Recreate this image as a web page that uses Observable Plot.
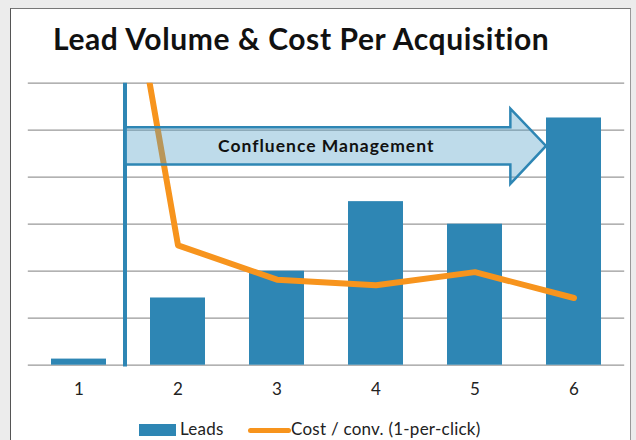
<!DOCTYPE html>
<html><head><meta charset="utf-8">
<script src="https://cdn.jsdelivr.net/npm/d3@7"></script>
<script src="https://cdn.jsdelivr.net/npm/@observablehq/plot@0.6"></script>
<style>
html,body{margin:0;padding:0;width:636px;height:440px;overflow:hidden;background:#ececec;font-family:Lato,sans-serif}
#frame{position:absolute;left:10px;top:8px;width:619px;height:470px;background:#fff;border-left:1.5px solid #555;border-top:1.5px solid #777;border-right:1px solid #999}
#chart{position:absolute;left:0;top:0}
#title{position:absolute;left:53px;top:19.5px;font-size:30px;line-height:36px;letter-spacing:0.6px;font-weight:700;color:#111;white-space:nowrap}
#legend{position:absolute;left:0;top:0;width:636px;height:440px;pointer-events:none}
.sw{position:absolute}
.lt{position:absolute;font-size:17px;line-height:20px;letter-spacing:0.25px;color:#222;white-space:nowrap}
</style>
</head><body>
<div id="frame"></div>
<div id="chart"></div>
<div id="title">Lead Volume &amp; Cost Per Acquisition</div>
<div id="legend">
  <div class="sw" style="left:139px;top:424px;width:37px;height:12px;background:#2e86b4"></div>
  <div class="lt" id="l1" style="left:180px;top:419px">Leads</div>
  <div class="sw" style="left:248px;top:427.5px;width:43px;height:5px;border-radius:3px;background:#f7941d"></div>
  <div class="lt" id="l2" style="left:291px;top:419px">Cost / conv. (1-per-click)</div>
</div>
<script>
const categories = ["1", "2", "3", "4", "5", "6"];
const leads = [1.3, 14.3, 20, 34.8, 30, 52.6];
const costPerConv = [146, 25.5, 18.2, 17.0, 19.8, 14.3];
const gridTicks = [0, 10, 20, 30, 40, 50, 60];
const phaseStart = "1";
const phaseEnd = "6";
const phaseLabel = "Confluence Management";
const arrowBody = [42.6, 50.5];
const arrowHead = [38.5, 54.5];

const table = categories.map((c, i) => ({cat: c, leads: leads[i], cost: costPerConv[i]}));

function arrowMark(index, scales) {
  const x = scales.x, y = scales.y;
  const bw = x.bandwidth ? x.bandwidth() : 0;
  const step = x.step ? x.step() : bw;
  const x0 = x(phaseStart) + bw / 2 + 46;
  const tip = x(phaseEnd);
  const hb = tip - step * 0.36;
  const yMid = y((arrowBody[0] + arrowBody[1]) / 2);
  const pts = [
    [x0, y(arrowBody[1])], [hb, y(arrowBody[1])], [hb, y(arrowHead[1])],
    [tip, yMid], [hb, y(arrowHead[0])], [hb, y(arrowBody[0])], [x0, y(arrowBody[0])]
  ];
  const g = d3.create("svg:g");
  g.append("path")
    .attr("d", "M" + pts.map(p => p.join(",")).join("L") + "Z")
    .attr("fill", "rgba(74,156,197,0.36)")
    .attr("stroke", "#2e86b4")
    .attr("stroke-width", 2.5)
    .attr("stroke-linejoin", "miter");
  g.append("text")
    .attr("x", (x0 + tip) / 2 - 9)
    .attr("y", yMid)
    .attr("dy", "0.35em")
    .attr("text-anchor", "middle")
    .attr("font-size", 17.5)
    .attr("letter-spacing", "1px")
    .attr("font-weight", 700)
    .attr("fill", "#111")
    .text(phaseLabel);
  return g.node();
}

const chart = Plot.plot({
  width: 636,
  height: 410,
  marginLeft: 27.8,
  marginRight: 11.8,
  marginTop: 82.7,
  marginBottom: 45.3,
  x: {type: "band", domain: categories, paddingInner: 0.44, paddingOuter: 0.22, tickSize: 0, tickPadding: 18, label: null},
  y: {domain: [0, 60], axis: null},
  style: {fontFamily: "Lato, sans-serif", fontSize: "17px", color: "#222", background: "transparent", overflow: "visible"},
  marks: [
    Plot.ruleY(gridTicks, {y: d => d, stroke: "#999", strokeWidth: 1.2}),
    Plot.barY(table, {x: "cat", y: "leads", fill: "#2e86b4"}),
    Plot.ruleX([phaseStart], {x: d => d, y1: -0.4, y2: 60, dx: 46, stroke: "#2e86b4", strokeWidth: 4}),
    Plot.line(table, {x: "cat", y: "cost", stroke: "#f7941d", strokeWidth: 6, strokeLinejoin: "round", strokeLinecap: "round", clip: true}),
    arrowMark
  ]
});
document.getElementById("chart").appendChild(chart);
</script>
</body></html>
